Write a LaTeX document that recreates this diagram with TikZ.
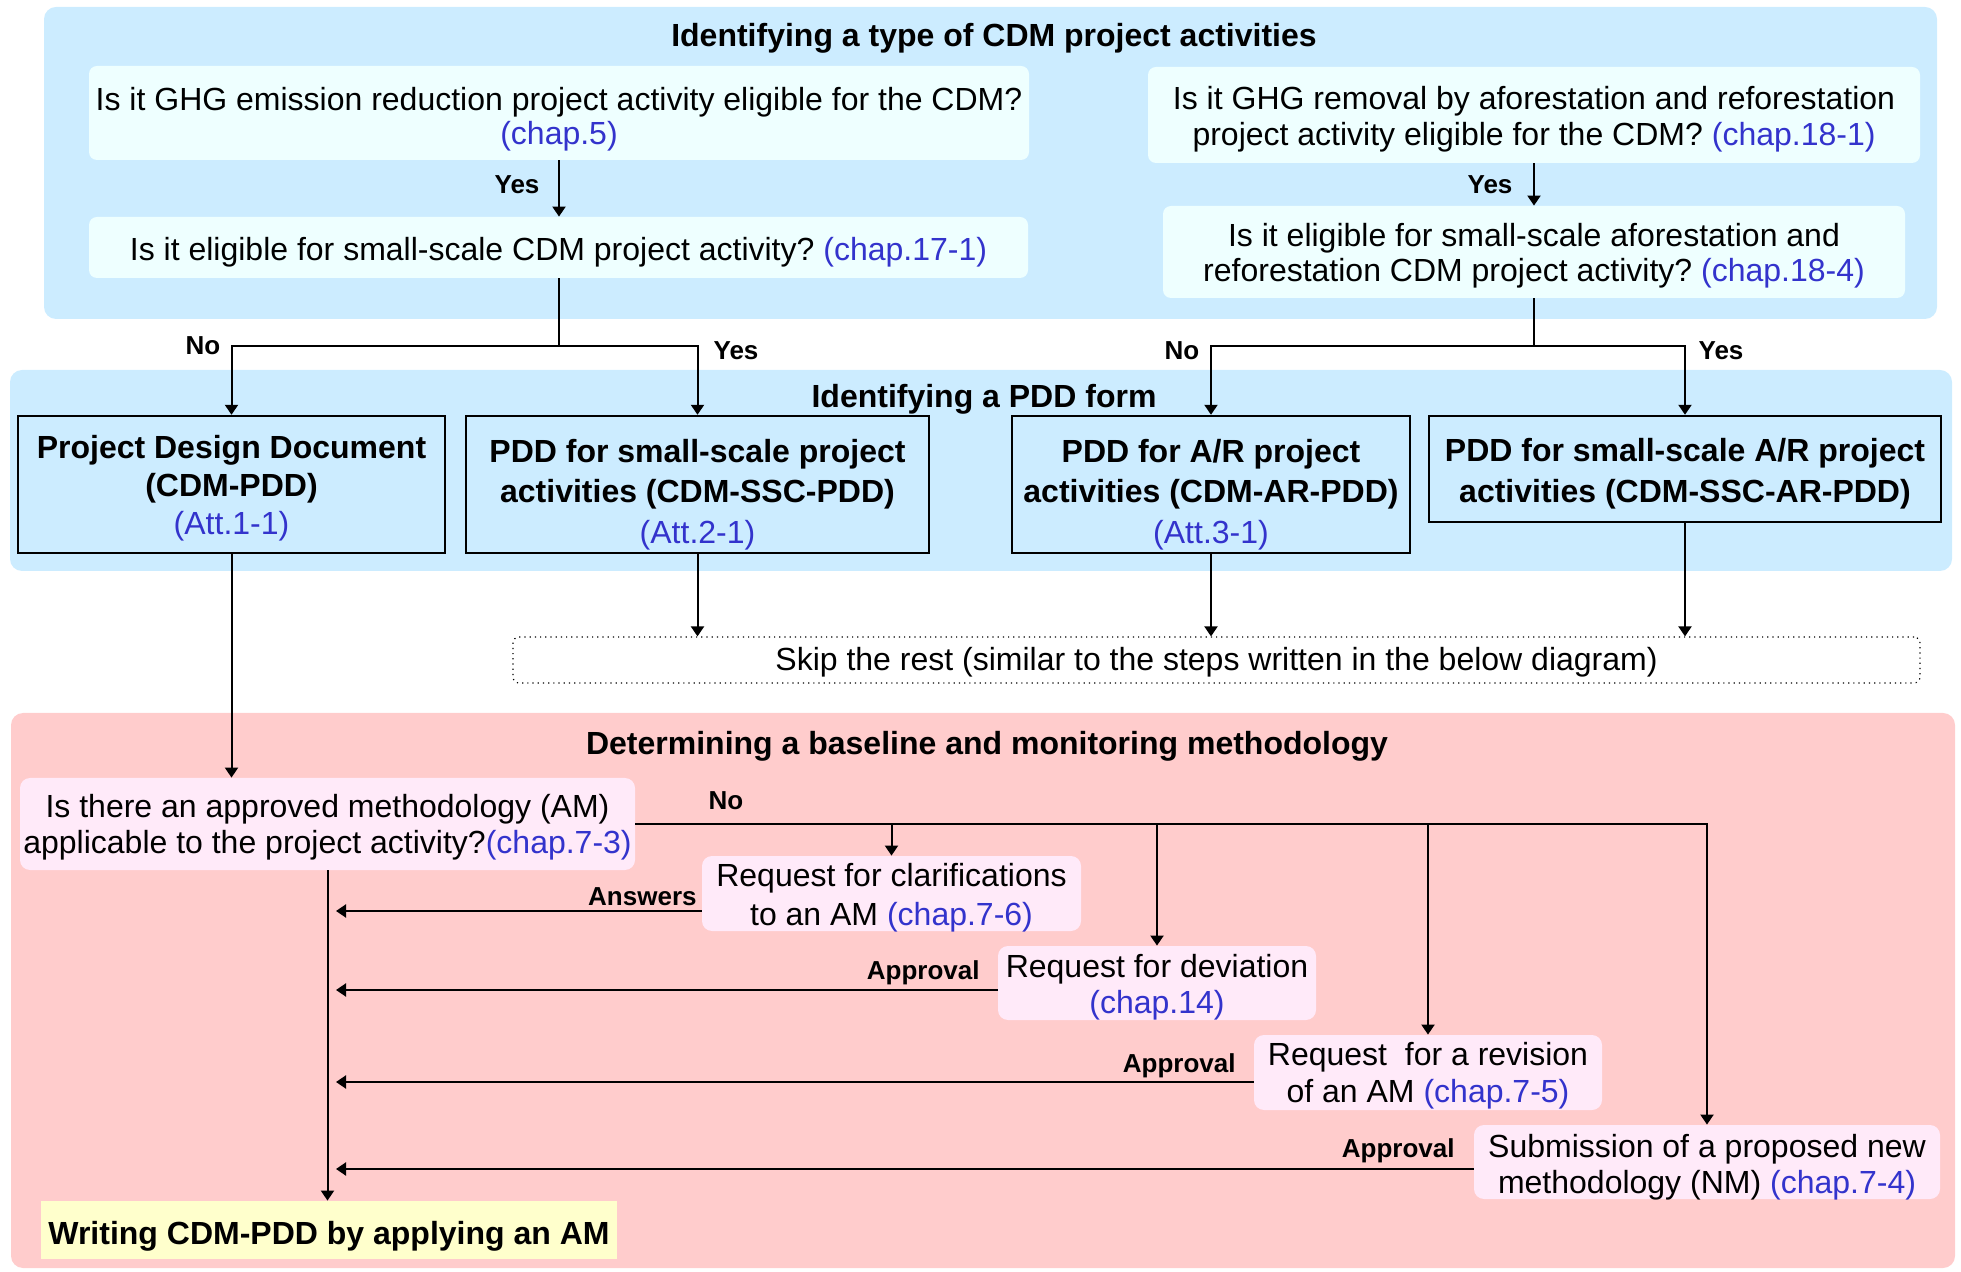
\documentclass[tikz,border=0pt]{standalone}
\usepackage{fontspec}
\setmainfont{Liberation Sans}
\usetikzlibrary{arrows.meta}
\definecolor{panelblue}{HTML}{CCECFF}
\definecolor{qcyan}{HTML}{EEFFFF}
\definecolor{panelpink}{HTML}{FFCCCC}
\definecolor{boxpink}{HTML}{FFEAF9}
\definecolor{boxyellow}{HTML}{FFFFCC}
\definecolor{chapblue}{HTML}{3333CC}
\newcommand{\chap}[1]{\textcolor{chapblue}{#1}}
\frenchspacing
\begin{document}
\begin{tikzpicture}[x=0.5pt,y=-0.5pt,
  sz/.style 2 args={minimum width=#1, minimum height=#2},
  panel/.style={fill=#1, rounded corners=6pt, inner sep=0pt, draw=none},
  qbox/.style={fill=qcyan, rounded corners=4pt, inner sep=0pt},
  pddbox/.style={fill=panelblue, draw=black, line width=1.2pt, inner sep=0pt},
  pbox/.style={fill=boxpink, rounded corners=5pt, inner sep=0pt},
  skipbox/.style={draw=black, dotted, line width=0.6pt, rounded corners=3pt, inner sep=0pt},
  wbox/.style={fill=boxyellow, inner sep=0pt},
  txt/.style={inner sep=0pt, align=center, font=\fontsize{16}{#1}\selectfont},
  txt/.default=18,
  titletext/.style={font=\bfseries\fontsize{16}{18}\selectfont, inner sep=0pt},
  lab/.style={font=\bfseries\fontsize{13}{15}\selectfont, inner sep=0pt},
  conn/.style={line width=1pt},
  arr/.style={line width=1pt, -{Triangle[length=5pt,width=6.5pt]}}
]
\useasboundingbox (0,0) rectangle (1961,1272);

% panels
\node[panel=panelblue, sz={946.5pt}{156pt}] (P1) at (990.5,163) {};
\node[panel=panelblue, sz={971pt}{100.5pt}] (P2) at (981,470.5) {};
\node[panel=panelpink, sz={972pt}{277.5pt}] (P3) at (983,990.5) {};

% titles
\node[titletext] (t1) at (994,38) {Identifying a type of CDM project activities};
\node[titletext] (t2) at (984,399) {Identifying a PDD form};
\node[titletext] (t3) at (987,746) {Determining a baseline and monitoring methodology};

% question boxes
\node[qbox, sz={470pt}{47pt}] (q1) at (559,113) {};
\node[qbox, sz={469.5pt}{30.5pt}] (q2) at (558.5,247.5) {};
\node[qbox, sz={386pt}{48pt}] (q3) at (1534,115) {};
\node[qbox, sz={371pt}{46pt}] (q4) at (1534,252) {};
\node[txt=17] (q1t) at (559,119) {Is it GHG emission reduction project activity eligible for the CDM?\\\chap{(chap.5)}};
\node[txt] (q2t) at (558.5,252.5) {Is it eligible for small-scale CDM project activity? \chap{(chap.17-1)}};
\node[txt] (q3t) at (1534,119) {Is it GHG removal by aforestation and reforestation\\project activity eligible for the CDM? \chap{(chap.18-1)}};
\node[txt=17.5] (q4t) at (1534,256) {Is it eligible for small-scale aforestation and\\reforestation CDM project activity? \chap{(chap.18-4)}};

% PDD boxes
\node[pddbox, sz={213.5pt}{68.5pt}] (b1) at (231.5,484.5) {};
\node[pddbox, sz={231.5pt}{68.5pt}] (b2) at (697.5,484.5) {};
\node[pddbox, sz={199pt}{68.5pt}] (b3) at (1211,484.5) {};
\node[pddbox, sz={256pt}{53pt}] (b4) at (1685,469) {};
\node[txt=19] (b1t) at (231.5,488) {\textbf{Project Design Document}\\\textbf{(CDM-PDD)}\\\chap{(Att.1-1)}};
\node[txt=20.25] (b2t) at (697.5,494.5) {\textbf{PDD for small-scale project}\\\textbf{activities (CDM-SSC-PDD)}\\\chap{(Att.2-1)}};
\node[txt=20.25] (b3t) at (1211,494.5) {\textbf{PDD for A/R project}\\\textbf{activities (CDM-AR-PDD)}\\\chap{(Att.3-1)}};
\node[txt=20.5] (b4t) at (1685,474) {\textbf{PDD for small-scale A/R project}\\\textbf{activities (CDM-SSC-AR-PDD)}};

% skip box
\node[skipbox, sz={703.5pt}{23pt}] (skip) at (1216.5,660) {};
\node[txt] (skipt) at (1216.5,662.5) {Skip the rest (similar to the steps written in the below diagram)};

% methodology boxes
\node[pbox, sz={307.5pt}{46pt}] (am) at (327.5,824) {};
\node[pbox, sz={189.5pt}{37.5pt}] (clar) at (891.5,893.5) {};
\node[pbox, sz={159pt}{37pt}] (dev) at (1157,983) {};
\node[pbox, sz={174pt}{37.5pt}] (rev) at (1428,1072.5) {};
\node[pbox, sz={233pt}{37pt}] (sub) at (1707,1162) {};
\node[wbox, sz={288pt}{29pt}] (write) at (329,1230) {};
\node[txt] (amt) at (327.5,827) {Is there an approved methodology (AM)\\applicable to the project activity?\chap{(chap.7-3)}};
\node[txt=19.4] (clart) at (891.5,897.5) {Request for clarifications\\to an AM \chap{(chap.7-6)}};
\node[txt] (devt) at (1157,987.5) {Request for deviation\\\chap{(chap.14)}};
\node[txt=18.5] (revt) at (1428,1076) {Request\ \ for a revision\\of an AM \chap{(chap.7-5)}};
\node[txt] (subt) at (1707,1167) {Submission of a proposed new\\methodology (NM) \chap{(chap.7-4)}};
\node[titletext] (writet) at (329,1236) {Writing CDM-PDD by applying an AM};

% junction coordinates
\coordinate (j1) at (559,346);
\coordinate (j2) at (1534,346);
\coordinate (ra1) at (336,911);
\coordinate (ra2) at (336,990);
\coordinate (ra3) at (336,1082);
\coordinate (ra4) at (336,1169);

% top connectors
\draw[arr] (q1) -- (q1 |- q2.north);
\draw[arr] (q3) -- (q3 |- q4.north);
\draw[conn] (q2.south -| j1) -- (j1);
\draw[arr] (j1) -| (b1.north);
\draw[arr] (j1) -| (b2.north);
\draw[conn] (q4.south) -- (j2);
\draw[arr] (j2) -| (b3.north);
\draw[arr] (j2) -| (b4.north);

% to skip box
\draw[arr] (b2.south) -- (b2.south |- skip.north);
\draw[arr] (b3.south) -- (b3.south |- skip.north);
\draw[arr] (b4.south) -- (b4.south |- skip.north);

% B1 to AM
\draw[arr] (b1.south) -- (b1.south |- am.north);

% No branch
\draw[arr] (am.east) -| (sub.north);
\draw[arr] (clar.north |- am.east) -- (clar.north);
\draw[arr] (dev.north |- am.east) -- (dev.north);
\draw[arr] (rev.north |- am.east) -- (rev.north);

% return arrows
\draw[arr] (clar.west |- ra1) -- (ra1);
\draw[arr] (dev.west |- ra2) -- (ra2);
\draw[arr] (rev.west |- ra3) -- (ra3);
\draw[arr] (sub.west |- ra4) -- (ra4);

% down to writing
\draw[arr] (am.south) -- (am.south |- write.north);

% labels
\node[lab] (y1) at (517,185) {Yes};
\node[lab] (y2) at (1490,185) {Yes};
\node[lab] (n1) at (203,346) {No};
\node[lab] (y3) at (736,351) {Yes};
\node[lab] (n2) at (1182,351) {No};
\node[lab] (y4) at (1721,351) {Yes};
\node[lab] (n3) at (726,801) {No};
\node[lab, anchor=east] (la1) at (697,897) {Answers};
\node[lab, anchor=east] (la2) at (980,973) {Approval};
\node[lab, anchor=east] (la3) at (1236,1066) {Approval};
\node[lab, anchor=east] (la4) at (1455,1151) {Approval};
\end{tikzpicture}
\end{document}
